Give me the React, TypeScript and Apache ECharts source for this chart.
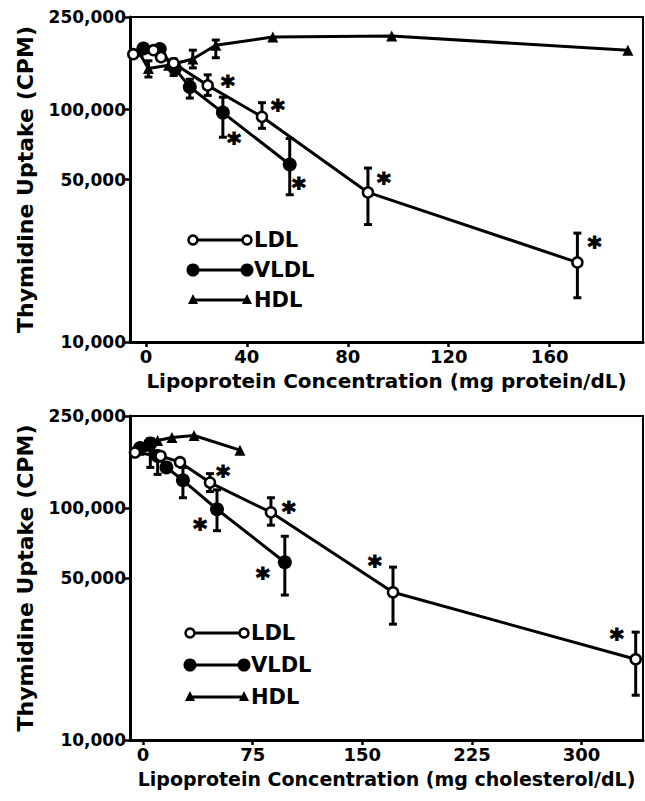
import React, { useEffect, useRef } from "react";
import * as echarts from "echarts";

// ---------- data ----------
const yTicks = [10000, 50000, 100000, 250000];
const xTicksTop = [0, 40, 80, 120, 160];
const xTicksBottom = [0, 75, 150, 225, 300];

// Top panel: mg protein/dL
const ldlTop = [[-5, 173000], [3, 180000], [6, 168000], [11, 158000], [24.5, 127000], [46, 93000], [88, 44000], [171, 22000]];
const vldlTop = [[-1, 183000], [5.5, 182000], [11.5, 150000], [17.4, 125000], [30.5, 97000], [57, 58000]];
const hdlTop = [[-3, 178000], [1, 150000], [9, 155000], [18.6, 165000], [27.7, 189000], [50.3, 205000], [97.4, 207000], [191, 180000]];
const errTop = [
  [1, 138000, 162000], [11, 140000, 165000], [18.6, 151000, 180000], [27.7, 167000, 199000],
  [24.5, 115000, 141000], [46, 83000, 107000], [88, 32000, 56000], [171, 15500, 29400],
  [17.4, 112000, 135000], [30.5, 76000, 113000], [57, 43000, 75000],
];
const starsTop = [[32.5, 134000], [34.9, 76000], [52.3, 106000], [60.6, 48800], [94.3, 51300], [177.8, 27200]];

// Bottom panel: mg cholesterol/dL
const ldlBottom = [[-5.5, 174000], [12, 168000], [25.3, 158000], [45.8, 129000], [87.5, 96000], [171, 43400], [337, 22300]];
const vldlBottom = [[-2, 182000], [5, 190000], [10, 168000], [16, 150000], [27.3, 132000], [50.6, 99000], [97, 58500]];
const hdlBottom = [[-3, 178000], [4, 185000], [10, 196000], [19.8, 202000], [34.9, 206000], [66.3, 178000]];
const errBottom = [
  [5, 150000, 200000], [10, 140000, 170000], [27.3, 111000, 150000], [50.6, 80000, 120000], [97, 42200, 75700],
  [45.8, 118000, 141000], [87.5, 84500, 111000], [171, 31600, 55700], [337, 15600, 29200],
];
const starsBottom = [[54.7, 146000], [39, 86000], [99.8, 102000], [82, 53000], [158.6, 59700], [324, 28900]];

const legendNames = ["LDL", "VLDL", "HDL"];

const FONT = "DejaVu Sans";

export default function App() {
  const ref = useRef<HTMLDivElement>(null);
  useEffect(() => {
    if (!ref.current) return;
    const chart = echarts.init(ref.current, null, { renderer: "svg" });

    const grids = [
      { left: 130, right: 2, top: 17, height: 325 },
      { left: 130, right: 2, top: 416, height: 324 },
    ];
    const fmt = (v: number) => v.toLocaleString("en-US");
    const labelStyle = { fontFamily: FONT, fontWeight: "bold" as const, fontSize: 17, color: "#000" };
    const makeX = (gi: number, min: number, max: number, ticks: number[], name: string, nameSize: number) => ({
      type: "value", gridIndex: gi, min, max,
      name, nameLocation: "middle", nameGap: 29,
      nameTextStyle: { fontFamily: FONT, fontWeight: "bold", fontSize: nameSize, color: "#000" },
      axisLine: { onZero: false, lineStyle: { color: "#000", width: 3 } },
      axisTick: { customValues: ticks, length: 5, lineStyle: { color: "#000", width: 2.5 } },
      axisLabel: { customValues: ticks, margin: 5, ...labelStyle, fontSize: 18 },
      splitLine: { show: false },
    });
    const makeY = (gi: number) => ({
      type: "log", logBase: 10, gridIndex: gi, min: 10000, max: 250000,
      name: "Thymidine Uptake (CPM)", nameLocation: "middle", nameGap: 94, nameRotate: 90,
      nameTextStyle: { fontFamily: FONT, fontWeight: "bold", fontSize: 22, color: "#000" },
      axisLine: { onZero: false, lineStyle: { color: "#000", width: 3 } },
      axisTick: { customValues: yTicks, length: 6, lineStyle: { color: "#000", width: 2.5 } },
      axisLabel: { customValues: yTicks, formatter: fmt, margin: 4, ...labelStyle },
      splitLine: { show: false },
    });

    const lineSeries = (data: number[][], gi: number, kind: string) => ({
      type: "line", xAxisIndex: gi, yAxisIndex: gi, data, z: 3,
      lineStyle: { color: "#000", width: 3 },
      symbol: kind === "HDL" ? "triangle" : "circle",
      symbolSize: kind === "LDL" ? 10 : kind === "VLDL" ? 14 : 11,
      itemStyle: kind === "LDL"
        ? { color: "#fff", borderColor: "#000", borderWidth: 2.5 }
        : { color: "#000", borderColor: "#000", borderWidth: 0 },
      showSymbol: true,
    });
    const errSeries = (data: number[][], gi: number) => ({
      type: "custom", xAxisIndex: gi, yAxisIndex: gi, data, z: 2,
      encode: { x: 0, y: [1, 2] },
      renderItem: (params: any, api: any) => {
        const x = api.value(0);
        const p1 = api.coord([x, api.value(1)]);
        const p2 = api.coord([x, api.value(2)]);
        const c = 4;
        const st = { stroke: "#000", lineWidth: 3 };
        return {
          type: "group",
          children: [
            { type: "line", shape: { x1: p1[0], y1: p1[1], x2: p2[0], y2: p2[1] }, style: st },
            { type: "line", shape: { x1: p1[0] - c, y1: p1[1], x2: p1[0] + c, y2: p1[1] }, style: st },
            { type: "line", shape: { x1: p2[0] - c, y1: p2[1], x2: p2[0] + c, y2: p2[1] }, style: st },
          ],
        };
      },
    });
    const starSeries = (data: number[][], gi: number) => ({
      type: "scatter", xAxisIndex: gi, yAxisIndex: gi, data, symbolSize: 0, z: 4,
      itemStyle: { color: "#000", opacity: 1 },
      label: {
        show: true, position: "inside", formatter: "*", offset: [0, 6],
        fontFamily: FONT, fontWeight: "bold", fontSize: 26, color: "#000",
        textBorderColor: "#000", textBorderWidth: 1.2,
      },
    });

    const legendGroup = (x0: number, y0: number, dy: number) => {
      const children: any[] = [];
      legendNames.forEach((n, i) => {
        const y = y0 + i * dy;
        const x1 = x0, x2 = x0 + 54;
        children.push({ type: "line", shape: { x1, y1: y, x2, y2: y }, style: { stroke: "#000", lineWidth: 3 } });
        [x1, x2].forEach((xx) => {
          if (n === "LDL") children.push({ type: "circle", shape: { cx: xx, cy: y, r: 4.5 }, style: { fill: "#fff", stroke: "#000", lineWidth: 2.5 } });
          else if (n === "VLDL") children.push({ type: "circle", shape: { cx: xx, cy: y, r: 6.5 }, style: { fill: "#000" } });
          else children.push({ type: "polygon", shape: { points: [[xx, y - 6], [xx - 5, y + 4], [xx + 5, y + 4]] }, style: { fill: "#000" } });
        });
        children.push({
          type: "text", x: x2 + 7, y, style: {
            text: n, fontFamily: FONT, fontWeight: "bold", fontSize: 21, fill: "#000", verticalAlign: "middle",
          },
        });
      });
      return { type: "group", children };
    };

    chart.setOption({
      animation: false,
      backgroundColor: "#fff",
      grid: grids.map((g) => ({
        ...g, show: true, borderColor: "#000", borderWidth: 2, backgroundColor: "transparent",
        containLabel: false, outerBoundsMode: "none",
      })),
      xAxis: [
        makeX(0, -6.3, 197, xTicksTop, "Lipoprotein Concentration (mg protein/dL)", 20),
        makeX(1, -8.9, 342, xTicksBottom, "Lipoprotein Concentration (mg cholesterol/dL)", 19),
      ],
      yAxis: [makeY(0), makeY(1)],
      series: [
        errSeries(errTop, 0),
        lineSeries(hdlTop, 0, "HDL"),
        lineSeries(vldlTop, 0, "VLDL"),
        lineSeries(ldlTop, 0, "LDL"),
        starSeries(starsTop, 0),
        errSeries(errBottom, 1),
        lineSeries(hdlBottom, 1, "HDL"),
        lineSeries(vldlBottom, 1, "VLDL"),
        lineSeries(ldlBottom, 1, "LDL"),
        starSeries(starsBottom, 1),
      ],
      graphic: [legendGroup(193, 240, 30), legendGroup(190, 633, 32)],
    });
    return () => chart.dispose();
  }, []);
  return <div ref={ref} style={{ position: "fixed", left: 0, top: 0, width: 645, height: 801, background: "#fff" }} />;
}
